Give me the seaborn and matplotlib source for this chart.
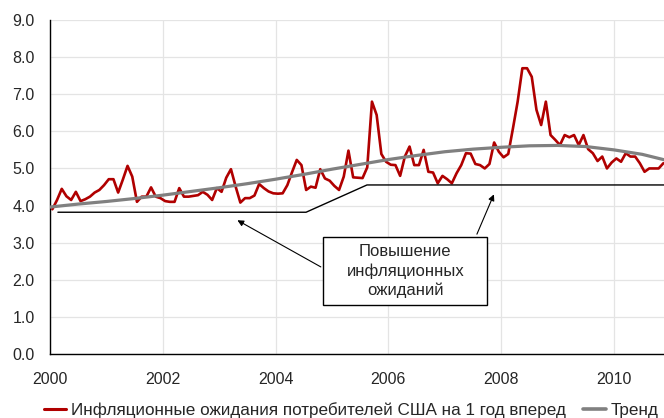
import numpy as np
import pandas as pd
import seaborn as sns
import matplotlib.pyplot as plt
from matplotlib.patches import Rectangle
from matplotlib.lines import Line2D

# Monthly values, Jan 2000 onwards
expectations = [
    3.90, 4.15, 4.45, 4.25, 4.15, 4.37, 4.12, 4.17, 4.24, 4.35, 4.42, 4.55,
    4.71, 4.71, 4.35, 4.70, 5.07, 4.78, 4.10, 4.24, 4.24, 4.49, 4.24, 4.20,
    4.12, 4.10, 4.10, 4.47, 4.24, 4.24, 4.26, 4.28, 4.37, 4.29, 4.15, 4.47,
    4.37, 4.75, 4.98, 4.51, 4.08, 4.20, 4.20, 4.27, 4.58, 4.47, 4.38, 4.33,
    4.32, 4.33, 4.55, 4.90, 5.23, 5.09, 4.42, 4.51, 4.48, 4.98, 4.73, 4.67,
    4.53, 4.42, 4.78, 5.48, 4.76, 4.75, 4.74, 5.03, 6.80, 6.44, 5.39, 5.18,
    5.10, 5.09, 4.80, 5.32, 5.59, 5.09, 5.09, 5.50, 4.91, 4.89, 4.60, 4.80,
    4.71, 4.60, 4.87, 5.09, 5.41, 5.40, 5.12, 5.09, 5.00, 5.12, 5.70, 5.45,
    5.30, 5.39, 6.08, 6.80, 7.70, 7.70, 7.47, 6.58, 6.17, 6.80, 5.90, 5.77,
    5.63, 5.90, 5.84, 5.90, 5.63, 5.90, 5.52, 5.41, 5.20, 5.32, 5.00, 5.16,
    5.27, 5.18, 5.41, 5.32, 5.32, 5.14, 4.91, 5.00, 5.00, 5.00, 5.14,
]
# Trend curve, every half year
trend_years = [2000.0, 2000.5, 2001.0, 2001.5, 2002.0, 2002.5, 2003.0, 2003.5,
               2004.0, 2004.5, 2005.0, 2005.5, 2006.0, 2006.5, 2007.0, 2007.5,
               2008.0, 2008.5, 2009.0, 2009.5, 2010.0, 2010.5, 2010.9]
trend_values = [3.96, 4.04, 4.11, 4.19, 4.28, 4.38, 4.48, 4.59,
                4.71, 4.84, 4.98, 5.11, 5.24, 5.35, 5.45, 5.52,
                5.57, 5.61, 5.62, 5.59, 5.50, 5.38, 5.23]
start_year = 2000
year_ticks = [2000, 2002, 2004, 2006, 2008, 2010]
value_ticks = [0, 1, 2, 3, 4, 5, 6, 7, 8, 9]
series_label = "Инфляционные ожидания потребителей США на 1 год вперед"
trend_label = "Тренд"
box_text = "Повышение\nинфляционных\nожиданий"

months = np.arange(len(expectations))
df = pd.DataFrame({
    "year": start_year + (months + 0.5) / 12,
    "value": expectations,
})
trend = pd.DataFrame({"year": trend_years, "value": trend_values})

sns.set_style("white")
plt.rcParams["font.family"] = ["Liberation Sans", "DejaVu Sans"]

red = "#B00000"
grey = "#808080"

fig = plt.figure(figsize=(6.64, 4.18), dpi=100)
ax = fig.add_axes([50 / 664, 64 / 418, 614 / 664, 334 / 418])

sns.lineplot(data=df, x="year", y="value", color=red, lw=1.9, ax=ax, zorder=3)
sns.lineplot(data=trend, x="year", y="value", color=grey, lw=2.3, ax=ax, zorder=4)

ax.set_xlim(2000, 2000 + 614 / 56.4)
ax.set_ylim(0, 9)
ax.set_xticks(year_ticks)
ax.set_xticklabels([str(y) for y in year_ticks])
ax.set_yticks(value_ticks)
ax.set_yticklabels([f"{v:.1f}" for v in value_ticks])
ax.set_xlabel("")
ax.set_ylabel("")
ax.grid(True, color="#e4e4e4", lw=0.9)
ax.set_axisbelow(True)
for s in ["top", "right"]:
    ax.spines[s].set_visible(False)
for s in ["left", "bottom"]:
    ax.spines[s].set_color("black")
    ax.spines[s].set_linewidth(1.0)
ax.tick_params(axis="y", length=4, width=1, color="black", pad=7, labelsize=11.5)
ax.tick_params(axis="x", length=0, pad=13, labelsize=11.5)

# annotation: step line, arrows and text box
ax.plot([2000.14, 2004.54, 2005.62, 2011], [3.82, 3.82, 4.555, 4.555],
        color="black", lw=1.0, zorder=5)
arrow = dict(arrowstyle="-|>", color="black", lw=0.8, mutation_scale=9)
ax.annotate("", xy=(2003.28, 3.64), xytext=(2004.845, 2.31), arrowprops=arrow, zorder=6)
ax.annotate("", xy=(2007.89, 4.37), xytext=(2007.55, 3.16), arrowprops=arrow, zorder=6)
ax.add_patch(Rectangle((2004.845, 1.32), 2.908, 1.825, facecolor="white",
                       edgecolor="black", lw=1.0, zorder=7))
ax.text(2006.3, 2.233, box_text, ha="center", va="center", fontsize=12,
        linespacing=1.3, zorder=8)

handles = [Line2D([], [], color=red, lw=2.2), Line2D([], [], color=grey, lw=2.6)]
fig.legend(handles, [series_label, trend_label], loc="center left",
           bbox_to_anchor=(44 / 664, 1 - 410 / 418), ncol=2, frameon=False,
           fontsize=12.3, handlelength=1.3, handletextpad=0.3, columnspacing=1.0,
           borderaxespad=0, borderpad=0)

fig.savefig("out.png", dpi=100)
